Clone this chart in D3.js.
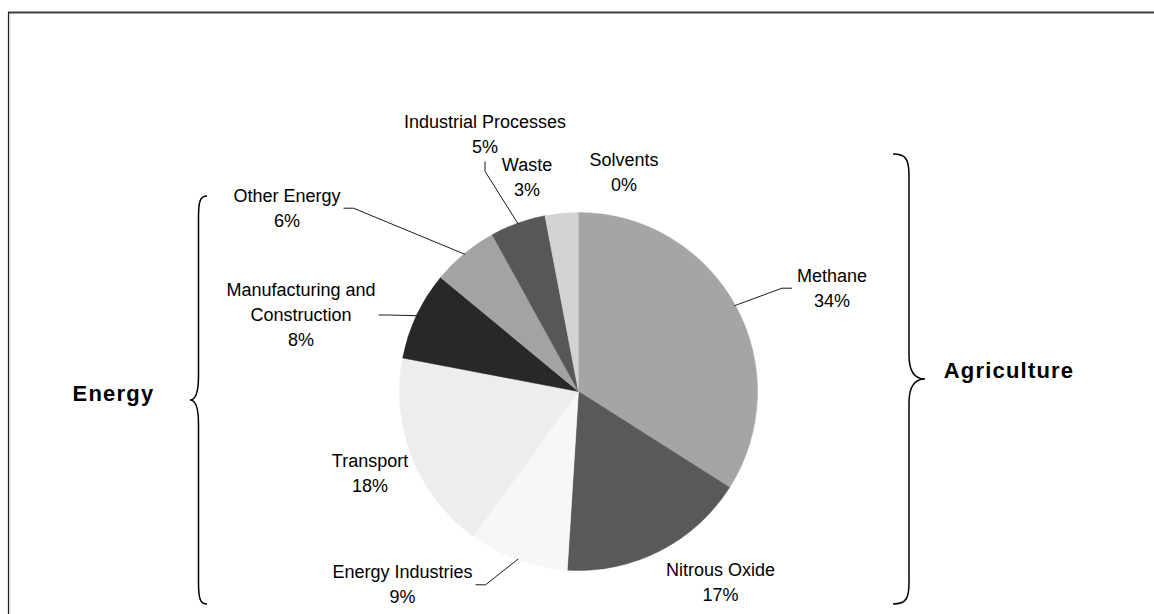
<!DOCTYPE html>
<html>
<head>
<meta charset="utf-8">
<script src="https://cdn.jsdelivr.net/npm/d3@7"></script>
<style>
  html, body { margin: 0; padding: 0; background: #fff; }
  svg { display: block; }
  text { font-family: "Liberation Sans", Arial, sans-serif; fill: #000; }
</style>
</head>
<body>
<svg id="chart" width="1154" height="614"></svg>
<script>
// Emission sources, clockwise from 12 o'clock
const categories = [
  "Methane", "Nitrous Oxide", "Energy Industries", "Transport",
  "Manufacturing and\nConstruction", "Other Energy",
  "Industrial Processes", "Waste", "Solvents"
];
// Share of total emissions (%)
const shares = [34, 17, 9, 18, 8, 6, 5, 3, 0];
// Grey fill for each slice
const shades = [
  "#a5a5a5", "#595959", "#f7f7f7", "#ededed",
  "#282828", "#a3a3a3", "#575757", "#d3d3d3", "#bfbfbf"
];
// Sector groupings shown with braces
const groups = ["Energy", "Agriculture"];

// ---- layout ----
const W = 1154, H = 614;
const cx = 578.5, cy = 391.5, R = 179;
const lineGap = 25;

// label anchor (centre x, first baseline) relative to the pie centre,
// and which side of the label the leader line leaves from
const labelLayout = [
  { dx: 253.5, dy: -109.8, leader: "left" },
  { dx: 142,   dy: 184.5,  leader: null },
  { dx: -176,  dy: 186.8,  leader: "right" },
  { dx: -208.5, dy: 75.8,  leader: null },
  { dx: -277.5, dy: -95.5, leader: "right" },
  { dx: -291.5, dy: -189.8, leader: "right" },
  { dx: -93.5, dy: -263.2, leader: "bottom" },
  { dx: -51.5, dy: -220.5, leader: null },
  { dx: 45.5,  dy: -225.8, leader: null }
];

const svg = d3.select("#chart");

// outer frame (right and bottom edges fall outside the canvas)
svg.append("line")
  .attr("x1", 8).attr("x2", W).attr("y1", 12.5).attr("y2", 12.5)
  .attr("stroke", "#3d3d3d").attr("stroke-width", 2);
svg.append("line")
  .attr("x1", 8.5).attr("x2", 8.5).attr("y1", 12).attr("y2", H)
  .attr("stroke", "#1e1e1e").attr("stroke-width", 1.2);
svg.append("line")
  .attr("x1", 10).attr("x2", 10).attr("y1", 14).attr("y2", H)
  .attr("stroke", "#d8d8d8").attr("stroke-width", 1);

const data = categories.map((c, i) => ({ name: c, value: shares[i], color: shades[i], layout: labelLayout[i] }));
const total = d3.sum(shares);
const pct = d3.format(".0%");

const pie = d3.pie().sort(null).value(d => d.value).startAngle(0).endAngle(2 * Math.PI);
const arcs = pie(data);
const arc = d3.arc().innerRadius(0).outerRadius(R);
const edge = d3.arc().innerRadius(R - 1).outerRadius(R - 1);

const g = svg.append("g").attr("transform", `translate(${cx},${cy})`);

g.selectAll("path.slice")
  .data(arcs)
  .join("path")
  .attr("class", "slice")
  .attr("d", arc)
  .attr("fill", d => d.data.color)
  .attr("stroke", d => d.data.color)
  .attr("stroke-width", 0.5);

// data labels
const labels = g.selectAll("g.label")
  .data(arcs)
  .join("g")
  .attr("class", "label")
  .attr("transform", d => `translate(${d.data.layout.dx},${d.data.layout.dy})`);

labels.each(function(d) {
  const lines = d.data.name.split("\n").concat([pct(d.data.value / total)]);
  const t = d3.select(this).append("text")
    .attr("text-anchor", "middle")
    .attr("font-size", 18);
  lines.forEach((s, k) => {
    t.append("tspan").attr("x", 0).attr("y", k * lineGap).text(s);
  });
});

// leader lines from label box to the slice's outer edge
labels.each(function(d) {
  const side = d.data.layout.leader;
  if (!side) return;
  const bb = this.querySelector("text").getBBox();
  const ox = d.data.layout.dx, oy = d.data.layout.dy;
  const end = edge.centroid(d);
  let start, elbow;
  if (side === "left") {
    start = [ox + bb.x - 5, oy + bb.y + bb.height / 2];
    elbow = [start[0] - 10, start[1]];
  } else if (side === "right") {
    start = [ox + bb.x + bb.width + 3, oy + bb.y + bb.height / 2];
    elbow = [start[0] + 10, start[1]];
  } else {
    start = [ox + bb.x + bb.width / 2, oy + bb.y + bb.height + 4];
    elbow = [start[0], start[1] + 10];
  }
  g.append("path")
    .attr("d", d3.line()([start, elbow, end]))
    .attr("fill", "none")
    .attr("stroke", "#1a1a1a")
    .attr("stroke-width", 1);
});

// curly brace: ends at xEnd, point at xTip
function brace(xEnd, xTip, y0, y1, yTip) {
  const xv = (xEnd + xTip) / 2;
  const p = d3.path();
  p.moveTo(xEnd, y0);
  p.bezierCurveTo(xv + (xEnd - xv) * 0.15, y0, xv, y0 + 6, xv, y0 + 22);
  p.lineTo(xv, yTip - 24);
  p.bezierCurveTo(xv, yTip - 6, xTip + (xv - xTip) * 0.6, yTip, xTip, yTip);
  p.bezierCurveTo(xTip + (xv - xTip) * 0.6, yTip, xv, yTip + 6, xv, yTip + 24);
  p.lineTo(xv, y1 - 22);
  p.bezierCurveTo(xv, y1 - 6, xv + (xEnd - xv) * 0.15, y1, xEnd, y1);
  return p.toString();
}

const braces = [
  { name: groups[0], path: brace(207, 190, 196, 604, 400), tx: 113.5, ty: 401, },
  { name: groups[1], path: brace(893, 925, 154, 604, 379), tx: 1009, ty: 378.3 }
];

svg.selectAll("path.brace")
  .data(braces)
  .join("path")
  .attr("class", "brace")
  .attr("d", d => d.path)
  .attr("fill", "none")
  .attr("stroke", "#000")
  .attr("stroke-width", 1.5);

svg.selectAll("text.group")
  .data(braces)
  .join("text")
  .attr("class", "group")
  .attr("x", d => d.tx)
  .attr("y", d => d.ty)
  .attr("text-anchor", "middle")
  .attr("font-size", 22)
  .attr("font-weight", "bold")
  .attr("letter-spacing", 1.2)
  .text(d => d.name);
</script>
</body>
</html>
